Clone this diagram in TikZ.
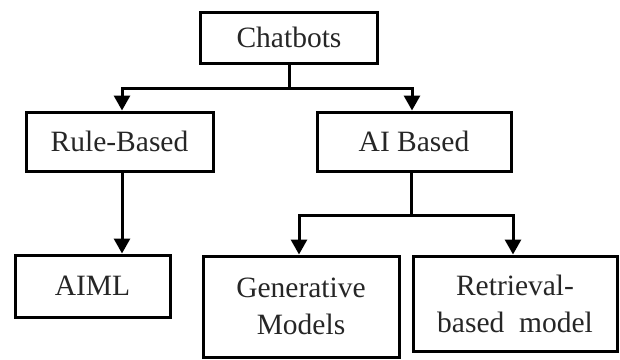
\documentclass[tikz,border=0pt]{standalone}
\usepackage{fontspec}
\setmainfont{Liberation Serif}
\usetikzlibrary{arrows.meta}
\begin{document}
\begin{tikzpicture}[x=1pt,y=-1pt,
  box/.style={draw=black,line width=3pt,inner sep=0pt,align=center,
    font=\fontsize{29.5}{37}\selectfont,text=black!85},
  conn/.style={line width=3pt,draw=black},
  arr/.style={conn,-{Triangle[width=16pt,length=15pt]}}]
\useasboundingbox (0,0) rectangle (620,359);
\node[box,minimum width=177pt,minimum height=51pt] (chat) at (289,37.5) {Chatbots};
\node[box,minimum width=187pt,minimum height=59pt] (rule) at (119.5,141.5) {Rule-Based};
\node[box,minimum width=194pt,minimum height=59pt] (ai) at (414,141.5) {AI Based};
\node[box,minimum width=155pt,minimum height=62pt] (aiml) at (92.5,286) {AIML};
\node[box,minimum width=196pt,minimum height=101pt] (gen) at (301,306.5) {Generative\\Models};
\node[box,minimum width=204pt,minimum height=95pt] (ret) at (515,303.5) {Retrieval-\\based~~model};
\coordinate (j1) at (289,88);
\coordinate (j2) at (411,215);
\draw[conn] (chat.south) -- (j1);
\draw[arr] (j1) -| ([xshift=2.5pt]rule.north);
\draw[arr] (j1) -| ([xshift=-2pt]ai.north);
\draw[arr] ([xshift=2.5pt]rule.south) -- ([xshift=29.5pt]aiml.north);
\draw[conn] ([xshift=-3pt]ai.south) -- (j2);
\draw[arr] (j2) -| ([xshift=-2pt]gen.north);
\draw[arr] (j2) -| ([xshift=-2pt]ret.north);
\end{tikzpicture}
\end{document}
